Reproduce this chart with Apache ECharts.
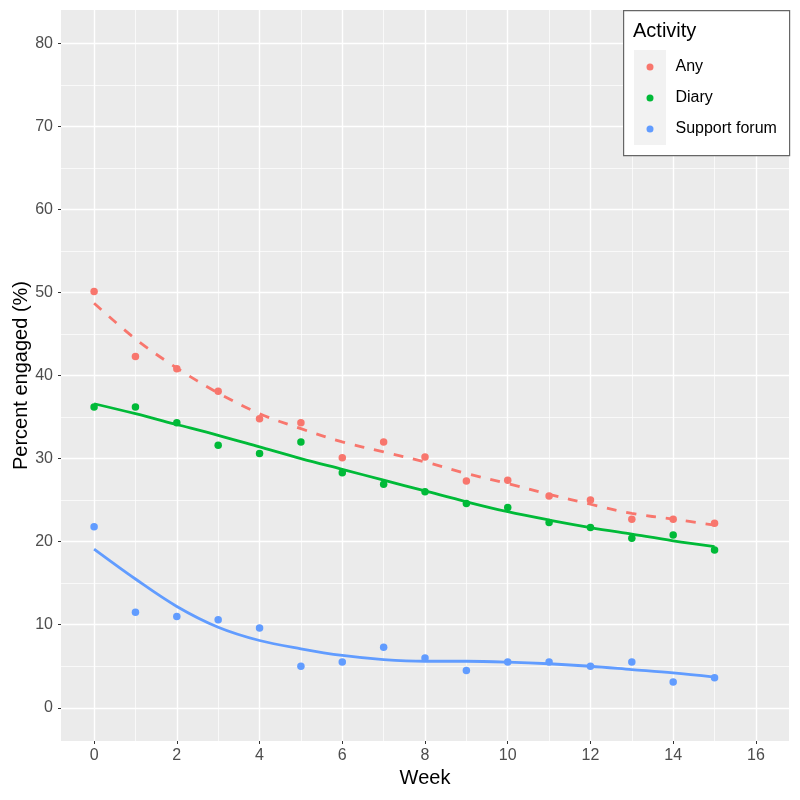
<!DOCTYPE html>
<html>
<head>
<meta charset="utf-8">
<script src="https://cdn.jsdelivr.net/npm/echarts@6/dist/echarts.min.js"></script>
<style>html,body{margin:0;padding:0;background:#fff;}#c{width:800px;height:800px;}</style>
</head>
<body>
<div id="c"></div>
<script>
var weeks = [0,1,2,3,4,5,6,7,8,9,10,11,12,13,14,15];
var anyPts   = [50.1, 42.3, 40.8, 38.1, 34.8, 34.3, 30.1, 32.0, 30.2, 27.3, 27.4, 25.5, 25.0, 22.7, 22.7, 22.2];
var diaryPts = [36.2, 36.2, 34.3, 31.6, 30.6, 32.0, 28.3, 26.9, 26.0, 24.6, 24.1, 22.3, 21.7, 20.4, 20.8, 19.0];
var forumPts = [21.8, 11.5, 11.0, 10.6, 9.6, 5.0, 5.5, 7.3, 6.0, 4.5, 5.5, 5.5, 5.0, 5.5, 3.1, 3.6];
var anyFit   = [48.7, 44.4, 40.9, 37.9, 35.4, 33.6, 32.0, 30.8, 29.6, 28.2, 27.0, 25.7, 24.5, 23.4, 22.7, 22.0];
var diaryFit = [36.6, 35.4, 34.1, 32.8, 31.4, 30.0, 28.7, 27.4, 26.1, 24.8, 23.6, 22.6, 21.7, 20.9, 20.1, 19.4];
var forumFit = [19.1, 15.5, 12.2, 9.7, 8.1, 7.1, 6.3, 5.8, 5.6, 5.6, 5.5, 5.3, 5.0, 4.6, 4.2, 3.7];
var xTicks = [0,2,4,6,8,10,12,14,16];
var xMinor = [1,3,5,7,9,11,13,15];
var yTicks = [0,10,20,30,40,50,60,70,80];
var yMinor = [5,15,25,35,45,55,65,75];
var seriesNames = ['Any','Diary','Support forum'];
var colors = ['#F8766D','#00BA38','#619CFF'];

function pairs(ys){ return weeks.map(function(w,i){ return [w, ys[i]]; }); }

var gridLines = [];
yMinor.forEach(function(v){ gridLines.push({yAxis:v, lineStyle:{width:0.7}}); });
xMinor.forEach(function(v){ gridLines.push({xAxis:v, lineStyle:{width:0.7}}); });
yTicks.forEach(function(v){ gridLines.push({yAxis:v, lineStyle:{width:1.4}}); });
xTicks.forEach(function(v){ gridLines.push({xAxis:v, lineStyle:{width:1.4}}); });

var chart = echarts.init(document.getElementById('c'));
var font = 'Liberation Sans, Arial, sans-serif';
chart.setOption({
  animation: false,
  textStyle: {fontFamily: font},
  grid: {left: 61, right: 11, top: 10, bottom: 59, show: true, backgroundColor: '#EBEBEB', borderWidth: 0,
         containLabel: false, outerBoundsMode: 'none'},
  xAxis: {
    type: 'value', min: -0.8, max: 16.8,
    name: 'Week', nameLocation: 'middle', nameGap: 27, nameMoveOverlap: false,
    nameTextStyle: {fontSize: 20, color: '#000', fontFamily: font},
    axisLine: {show: true, onZero: false, lineStyle: {color: 'rgba(0,0,0,0)', width: 0}},
    axisTick: {show: true, length: 3, customValues: xTicks, lineStyle: {color: '#333', width: 1}},
    axisLabel: {customValues: xTicks, fontSize: 16, color: '#4D4D4D', margin: 7, fontFamily: font},
    splitLine: {show: false}
  },
  yAxis: {
    type: 'value', min: -4, max: 84,
    name: 'Percent engaged (%)', nameLocation: 'middle', nameGap: 30, nameMoveOverlap: false,
    nameTextStyle: {fontSize: 20, color: '#000', fontFamily: font},
    axisLine: {show: true, onZero: false, lineStyle: {color: 'rgba(0,0,0,0)', width: 0}},
    axisTick: {show: true, length: 3, customValues: yTicks, lineStyle: {color: '#333', width: 1}},
    axisLabel: {customValues: yTicks, fontSize: 16, color: '#4D4D4D', margin: 8, fontFamily: font},
    splitLine: {show: false}
  },
  legend: {
    orient: 'vertical', left: 646.5, top: 59, itemGap: 15, padding: 0, z: 60,
    icon: 'circle', itemWidth: 7, itemHeight: 7,
    data: seriesNames,
    textStyle: {fontSize: 16, color: '#000', fontFamily: font, padding: [0,0,0,17]},
    selectedMode: false
  },
  graphic: [
    {type: 'rect', left: 623, top: 10, shape: {width: 166, height: 145}, style: {fill: '#fff', stroke: '#666', lineWidth: 1.2}, z: 50},
    {type: 'rect', left: 634, top: 50, shape: {width: 32, height: 95}, style: {fill: '#F2F2F2'}, z: 51},
    {type: 'text', left: 633, top: 21, style: {text: 'Activity', fontSize: 20, fill: '#000', fontFamily: font}, z: 52}
  ],
  series: [
    {type: 'line', name: 'grid', data: [], z: 1, silent: true,
     markLine: {silent: true, z: 1, symbol: ['none','none'], label: {show: false}, animation: false,
                lineStyle: {color: '#fff', type: 'solid'}, data: gridLines}},
    {type: 'line', name: 'Any fit', data: pairs(anyFit), smooth: 0.35, showSymbol: false, z: 3,
     lineStyle: {color: colors[0], width: 2.8, type: [10, 10], cap: 'butt'}},
    {type: 'line', name: 'Diary fit', data: pairs(diaryFit), smooth: 0.35, showSymbol: false, z: 3,
     lineStyle: {color: colors[1], width: 2.8}},
    {type: 'line', name: 'Support forum fit', data: pairs(forumFit), smooth: 0.35, showSymbol: false, z: 3,
     lineStyle: {color: colors[2], width: 2.8}},
    {type: 'scatter', name: seriesNames[0], data: pairs(anyPts), symbolSize: 7.5, itemStyle: {color: colors[0], opacity: 1}, z: 4},
    {type: 'scatter', name: seriesNames[1], data: pairs(diaryPts), symbolSize: 7.5, itemStyle: {color: colors[1], opacity: 1}, z: 4},
    {type: 'scatter', name: seriesNames[2], data: pairs(forumPts), symbolSize: 7.5, itemStyle: {color: colors[2], opacity: 1}, z: 4}
  ]
});
</script>
</body>
</html>
